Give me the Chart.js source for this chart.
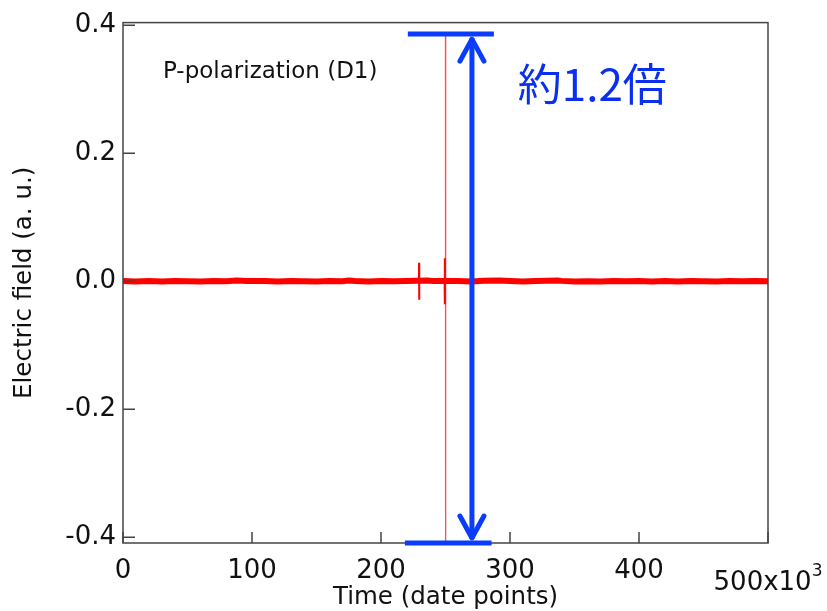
<!DOCTYPE html>
<html>
<head>
<meta charset="utf-8">
<script src="https://cdn.jsdelivr.net/npm/chart.js@4/dist/chart.umd.min.js"></script>
<style>
  html, body { margin: 0; padding: 0; background: #fff; }
  canvas { display: block; }
</style>
</head>
<body>
<canvas id="myChart" width="827" height="611"></canvas>
<script>
// baseline trace (time in 10^3 data points)
const timeK = [0, 10, 20, 30, 40, 50, 60, 70, 80, 88, 96, 110, 120, 130, 140, 150, 160, 170, 175, 180, 190,
  200, 210, 220, 236, 240, 260, 270, 280, 292, 300, 310, 320, 337, 340, 350, 360, 370, 380, 390,
  400, 410, 420, 430, 440, 450, 460, 470, 480, 490, 500];
const fieldVal = [0.0004, -0.0003, 0.0002, -0.0005, 0.0003, 0.0001, -0.0004, 0.0005, -0.0002, 0.0012, 0.0003,
  0.0004, -0.0005, 0.0002, 0.0000, -0.0003, 0.0005, -0.0002, 0.0010, 0.0003, -0.0004,
  0.0002, -0.0001, 0.0004, 0.0012, 0.0005, 0.0003, -0.0005, 0.0006, 0.0012, 0.0003, -0.0004, 0.0002, 0.0010, 0.0005, -0.0003, 0.0001, -0.0004, 0.0003, -0.0001,
  0.0004, -0.0003, 0.0002, -0.0005, 0.0003, 0.0000, -0.0003, 0.0004, -0.0002, 0.0003, -0.0001];

// small spikes
const spikeTimeK = [229.4, 229.5, 229.6, 229.7, 240, 249.3, 249.4, 249.5, 249.6];
const spikeField = [0, 0.029, -0.029, 0, null, 0, 0.036, -0.036, 0];

// large single-sample peak
const peakTimeK = [250.0, 250.1];
const peakField = [0.386, -0.415];

const xTicks = [0, 100, 200, 300, 400, 500];
const yTicks = [-0.4, -0.2, 0.0, 0.2, 0.4];

// annotation (blue range marker)
const arrowTimeK = 270.5;
const topBar = { from: 220.8, to: 287.5, field: 0.386 };
const bottomBar = { from: 218.5, to: 285.7, field: -0.409 };

const toPoints = (xs, ys) => xs.map((x, i) => ({ x: x, y: ys[i] }));

const fontFam = "'DejaVu Sans', sans-serif";
const frameColor = "#444";
const blue = "#0a3cff";

const decorPlugin = {
  id: "decor",
  afterDraw(chart) {
    const { ctx, chartArea: a, scales: { x, y } } = chart;
    ctx.save();
    // frame
    ctx.strokeStyle = frameColor;
    ctx.lineWidth = 1.5;
    ctx.strokeRect(a.left, a.top, a.right - a.left, a.bottom - a.top);
    // inward ticks
    ctx.beginPath();
    yTicks.forEach((v) => {
      const py = y.getPixelForValue(v);
      ctx.moveTo(a.left, py);
      ctx.lineTo(a.left + 12, py);
    });
    xTicks.forEach((v) => {
      const px = x.getPixelForValue(v);
      ctx.moveTo(px, a.bottom);
      ctx.lineTo(px, a.bottom - 11);
    });
    ctx.stroke();

    // 500x10^3 label
    ctx.fillStyle = "#111";
    ctx.font = "26px " + fontFam;
    ctx.textBaseline = "middle";
    ctx.textAlign = "left";
    const lbl = "500x10";
    const w = ctx.measureText(lbl).width;
    ctx.font = "17px " + fontFam;
    const w3 = ctx.measureText("3").width;
    const sx = x.getPixelForValue(500) - (w + w3) / 2;
    ctx.font = "26px " + fontFam;
    ctx.fillText(lbl, sx, a.bottom + 40);
    ctx.font = "17px " + fontFam;
    ctx.fillText("3", sx + w, a.bottom + 29);

    // inset label
    ctx.font = "23px " + fontFam;
    ctx.textBaseline = "alphabetic";
    ctx.fillText("P-polarization (D1)", x.getPixelForValue(31), y.getPixelForValue(0.317));

    // blue marker
    ctx.strokeStyle = blue;
    ctx.lineWidth = 5;
    ctx.lineCap = "butt";
    ctx.beginPath();
    ctx.moveTo(x.getPixelForValue(topBar.from), y.getPixelForValue(topBar.field));
    ctx.lineTo(x.getPixelForValue(topBar.to), y.getPixelForValue(topBar.field));
    ctx.moveTo(x.getPixelForValue(bottomBar.from), y.getPixelForValue(bottomBar.field));
    ctx.lineTo(x.getPixelForValue(bottomBar.to), y.getPixelForValue(bottomBar.field));
    const ax = x.getPixelForValue(arrowTimeK);
    const yTop = y.getPixelForValue(topBar.field) + 4;
    const yBot = y.getPixelForValue(bottomBar.field) - 4;
    ctx.moveTo(ax, yTop);
    ctx.lineTo(ax, yBot);
    ctx.stroke();
    ctx.lineCap = "round";
    ctx.lineJoin = "round";
    ctx.beginPath();
    ctx.moveTo(ax - 12, yTop + 23);
    ctx.lineTo(ax, yTop + 1);
    ctx.lineTo(ax + 12, yTop + 23);
    ctx.moveTo(ax - 12, yBot - 23);
    ctx.lineTo(ax, yBot - 1);
    ctx.lineTo(ax + 12, yBot - 23);
    ctx.stroke();

    ctx.fillStyle = "#0a2ff0";
    ctx.font = "44px 'Noto Sans CJK JP', sans-serif";
    ctx.fillText("約1.2倍", x.getPixelForValue(306), y.getPixelForValue(0.282));
    ctx.restore();
  },
};

new Chart(document.getElementById("myChart"), {
  type: "line",
  data: {
    datasets: [
      {
        label: "baseline",
        data: toPoints(timeK, fieldVal),
        borderColor: "#ff0000",
        borderWidth: 6,
        pointRadius: 0,
      },
      {
        label: "spikes",
        data: toPoints(spikeTimeK, spikeField),
        borderColor: "#ff0000",
        borderWidth: 2,
        pointRadius: 0,
        spanGaps: false,
      },
      {
        label: "peak",
        data: toPoints(peakTimeK, peakField),
        borderColor: "#ff4a4a",
        borderWidth: 1.3,
        pointRadius: 0,
      },
    ],
  },
  options: {
    responsive: false,
    animation: false,
    layout: { padding: { top: 18, right: 59, left: 0, bottom: 0 } },
    plugins: { legend: { display: false }, tooltip: { enabled: false } },
    scales: {
      x: {
        type: "linear",
        min: 0,
        max: 500,
        afterFit: (scale) => { scale.height = 68; },
        afterBuildTicks: (scale) => { scale.ticks = xTicks.map((v) => ({ value: v })); },
        grid: { display: false, drawTicks: false },
        border: { display: false },
        ticks: {
          padding: 13,
          color: "#111",
          font: { family: fontFam, size: 26 },
          maxRotation: 0,
          callback: (v) => (v === 500 ? "" : String(v)),
        },
        title: {
          display: true,
          text: "Time (date points)",
          color: "#111",
          font: { family: fontFam, size: 24.5, lineHeight: 1 },
          padding: { top: 0, bottom: 1 },
        },
      },
      y: {
        type: "linear",
        min: -0.409,
        max: 0.404,
        afterFit: (scale) => { scale.width = 123; },
        afterBuildTicks: (scale) => { scale.ticks = yTicks.map((v) => ({ value: v })); },
        grid: { display: false, drawTicks: false },
        border: { display: false },
        ticks: {
          padding: 7,
          color: "#111",
          font: { family: fontFam, size: 26 },
          callback: (v) => v.toFixed(1),
        },
        title: {
          display: true,
          text: "Electric field (a. u.)",
          color: "#111",
          font: { family: fontFam, size: 24.5, lineHeight: 1 },
          padding: { top: 12, bottom: 0 },
        },
      },
    },
  },
  plugins: [decorPlugin],
});
</script>
</body>
</html>
